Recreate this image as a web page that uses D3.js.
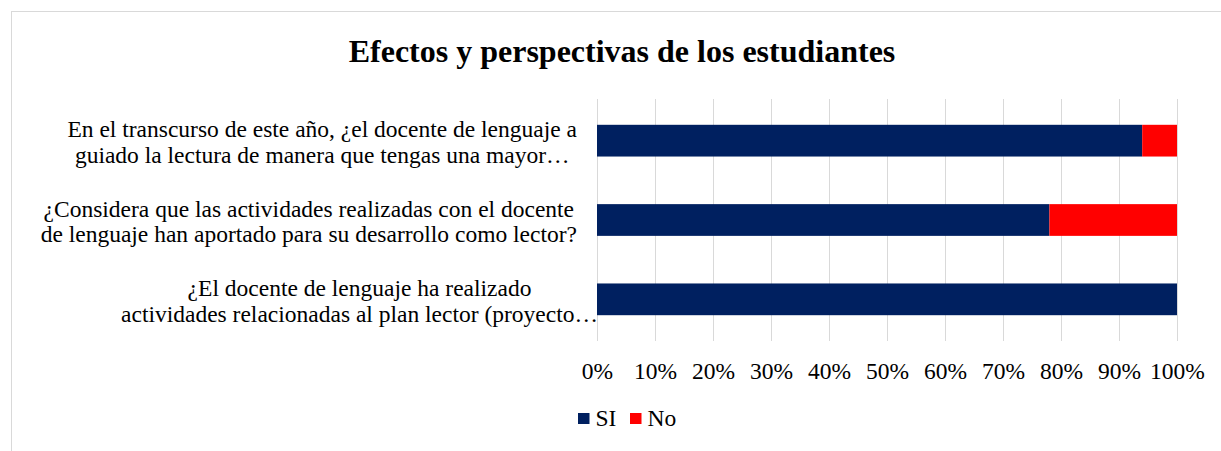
<!DOCTYPE html>
<html lang="es">
<head>
    <meta charset="utf-8">
    <title>Efectos y perspectivas de los estudiantes</title>
    <style>
        body { margin: 0; background: #fff; }
        text { font-family: 'Liberation Serif', 'Times New Roman', serif; fill: #000; }
        .grid line { stroke: #d9d9d9; stroke-width: 1px; }
        .axis-x path, .axis-x line { display: none; }
    </style>
</head>
<body>
<svg id="chart" width="1221" height="451"></svg>
<script src="https://d3js.org/d3.v7.min.js"></script>
<script>
// data, top to bottom as shown
const categories = [
    ["En el transcurso de este año, ¿el docente de lenguaje a", "guiado la lectura de manera que tengas una mayor…"],
    ["¿Considera que las actividades realizadas con el docente", "de lenguaje han aportado para su desarrollo como lector?"],
    ["¿El docente de lenguaje ha realizado", "actividades relacionadas al plan lector (proyecto…"]
];
const seriesNames = ["SI", "No"];
const siValues = [0.94, 0.78, 1.00];
const noValues = [0.06, 0.22, 0.00];
const tickValues = [0, 0.1, 0.2, 0.3, 0.4, 0.5, 0.6, 0.7, 0.8, 0.9, 1.0];
const colors = ["#002060", "#ff0000"];

const svg = d3.select("#chart");

// outer frame
svg.append("rect")
    .attr("x", 11.5).attr("y", 11.5)
    .attr("width", 1230).attr("height", 460)
    .attr("fill", "none")
    .attr("stroke", "#d9d9d9");

svg.append("text")
    .attr("x", 622).attr("y", 62)
    .attr("text-anchor", "middle")
    .style("font-size", "32px")
    .style("font-weight", "bold")
    .text("Efectos y perspectivas de los estudiantes");

let margin = {top: 101, left: 597, right: 1177, bottom: 339};

let xScale = d3.scaleLinear()
    .domain([0, 1])
    .range([margin.left, margin.right]);

let yScale = d3.scaleBand()
    .domain(d3.range(categories.length))
    .range([margin.top, margin.bottom])
    .paddingInner(0.6)
    .paddingOuter(0.3);

// gridlines
svg.append("g")
    .attr("class", "grid")
    .selectAll("line")
    .data(tickValues)
    .join("line")
    .attr("x1", d => Math.round(xScale(d)) + 0.5)
    .attr("x2", d => Math.round(xScale(d)) + 0.5)
    .attr("y1", margin.top - 2)
    .attr("y2", margin.bottom + 2);

// x axis labels
svg.append("g")
    .attr("class", "axis-x")
    .attr("transform", "translate(0," + 359 + ")")
    .call(d3.axisBottom(xScale)
        .tickValues(tickValues)
        .tickSize(0)
        .tickFormat(d3.format(".0%")))
    .selectAll("text")
    .style("font-size", "23.5px")
    .style("font-family", "'Liberation Serif', serif");

// stacked bars
const stacked = categories.map((c, i) => ({i: i, si: siValues[i], no: noValues[i]}));
const stack = d3.stack().keys(["si", "no"])(stacked);

svg.append("g")
    .selectAll("g")
    .data(stack)
    .join("g")
    .attr("fill", (d, k) => colors[k])
    .selectAll("rect")
    .data(d => d)
    .join("rect")
    .attr("x", d => xScale(d[0]))
    .attr("width", d => xScale(d[1]) - xScale(d[0]))
    .attr("y", d => yScale(d.data.i))
    .attr("height", yScale.bandwidth());

// category labels (centered lines, block right aligned)
const labelRight = [577, 577, 598];
categories.forEach((lines, i) => {
    let cy = yScale(i) + yScale.bandwidth() / 2;
    let g = svg.append("g");
    let texts = g.selectAll("text")
        .data(lines)
        .join("text")
        .attr("y", (d, j) => cy + (j - (lines.length - 1) / 2) * 25.6 + 9.5)
        .attr("text-anchor", "middle")
        .style("font-size", "23.5px")
        .text(d => d);
    let maxW = d3.max(texts.nodes(), n => n.getComputedTextLength());
    texts.attr("x", labelRight[i] - maxW / 2);
});

// legend
const legend = svg.append("g")
    .selectAll("g")
    .data(seriesNames)
    .join("g")
    .attr("transform", (d, i) => "translate(" + (578 + i * 52) + ",413)");
legend.append("rect")
    .attr("width", 11.5).attr("height", 11)
    .attr("fill", (d, i) => colors[i]);
legend.append("text")
    .attr("x", 17.5).attr("y", 13)
    .style("font-size", "23.5px")
    .text(d => d);
</script>
</body>
</html>
